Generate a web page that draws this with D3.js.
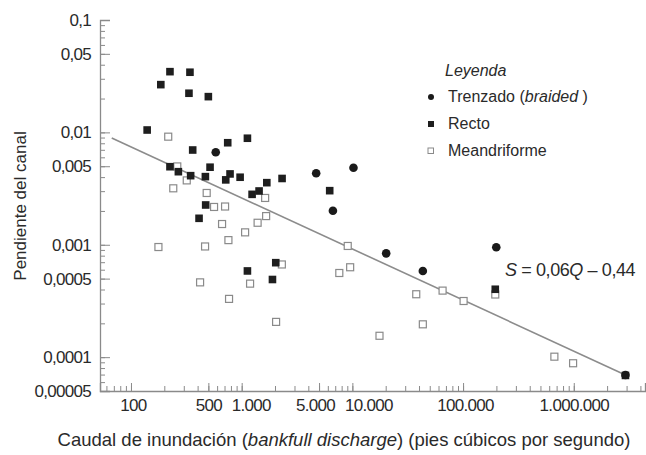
<!DOCTYPE html>
<html>
<head>
<meta charset="utf-8">
<script src="https://cdn.jsdelivr.net/npm/d3@7"></script>
<style>
  body { margin: 0; background: #fff; }
  text { font-family: "Liberation Sans", Arial, sans-serif; fill: #2a2a2a; }
</style>
</head>
<body>
<div id="chart"></div>
<script>
let width = 646, height = 455;

// caudal Q (pies3/s), pendiente S
const trenzado = [
  [583, 0.00665], [4710, 0.00433], [10230, 0.00485], [6670, 0.00201],
  [20200, 0.000839], [43300, 0.000585], [199500, 0.000951], [2930000, 0.0000695]
];
const recto = [
  [140, 0.0105], [186, 0.0266], [225, 0.0347], [341, 0.0343], [334, 0.0223],
  [500, 0.0208], [748, 0.00809], [1127, 0.00887], [361, 0.00697], [225, 0.00495],
  [268, 0.00447], [346, 0.00412], [470, 0.00404], [518, 0.0049], [785, 0.00427],
  [718, 0.00378], [968, 0.00399], [1687, 0.00357], [2317, 0.00389], [1242, 0.00281],
  [1436, 0.00301], [473, 0.00226], [412, 0.00172], [6240, 0.00303], [2032, 0.000693],
  [1127, 0.000585], [1897, 0.000491], [195400, 0.000402], [2930000, 0.0000688]
];
const meandriforme = [
  [217, 0.00916], [262, 0.00498], [319, 0.00374], [241, 0.00318], [483, 0.00289],
  [1629, 0.00261], [563, 0.00217], [708, 0.00219], [665, 0.00153], [1663, 0.0018],
  [1393, 0.00157], [1074, 0.00129], [759, 0.0011], [177, 0.000955], [467, 0.000966],
  [9080, 0.000976], [2306, 0.000668], [7620, 0.000561], [9550, 0.000631], [421, 0.000463],
  [1191, 0.000451], [769, 0.00033], [2046, 0.000206], [17580, 0.000155], [37760, 0.000363],
  [65300, 0.000391], [101100, 0.000316], [43300, 0.000196], [195400, 0.000361],
  [668000, 0.000101], [986000, 0.0000883]
];
// recta de ajuste (extremos)
const ajuste = [[67, 0.00891], [2930000, 0.0000695]];

const xTicks = [100, 500, 1000, 5000, 10000, 100000, 1000000];
const xTickLabels = ['100', '500', '1.000', '5.000', '10.000', '100.000', '1.000.000'];
const yTicks = [0.1, 0.05, 0.01, 0.005, 0.001, 0.0005, 0.0001, 0.00005];
const yTickLabels = ['0,1', '0,05', '0,01', '0,005', '0,001', '0,0005', '0,0001', '0,00005'];

// the original labels sit a bit off their ticks
const xLabelShift = [2, 0, 9, -4, 16, 2, 0];

const svg = d3.select('#chart').append('svg')
  .attr('width', width)
  .attr('height', height);

const x = d3.scaleLog().domain([52.5, 4.4e6]).range([100, 645]);
const y = d3.scaleLog().domain([0.00005, 0.1]).range([391, 20]);

const axisColor = '#8a8a8a';

// minor ticks
svg.append('g')
  .attr('transform', 'translate(0,391)')
  .call(d3.axisBottom(x).tickValues(x.ticks()).tickSize(-5).tickFormat(''))
  .call(g => g.select('.domain').remove());
svg.append('g')
  .attr('transform', 'translate(100,0)')
  .call(d3.axisLeft(y).tickValues(y.ticks()).tickSize(-5).tickFormat(''))
  .call(g => g.select('.domain').remove());

// major ticks + labels
const xAxis = svg.append('g')
  .attr('transform', 'translate(0,391)')
  .call(d3.axisBottom(x).tickValues(xTicks).tickSize(-8).tickPadding(8)
    .tickFormat((d, i) => xTickLabels[i]));
const yAxis = svg.append('g')
  .attr('transform', 'translate(100,0)')
  .call(d3.axisLeft(y).tickValues(yTicks).tickSize(-10).tickPadding(9)
    .tickFormat((d, i) => yTickLabels[i]));

xAxis.selectAll('.tick text').attr('dx', (d, i) => xLabelShift[i]);

svg.selectAll('.tick line').attr('stroke', axisColor);
[xAxis, yAxis].forEach(a => {
  a.select('.domain').attr('stroke', axisColor).attr('stroke-width', 1.3);
  a.selectAll('text').style('font-size', '17px').attr('fill', '#2a2a2a')
    .style('letter-spacing', '-0.7px');
});

// recta
svg.append('path')
  .datum(ajuste)
  .attr('fill', 'none')
  .attr('stroke', '#8c8c8c')
  .attr('stroke-width', 1.6)
  .attr('d', d3.line().x(d => x(d[0])).y(d => y(d[1])));

// meandriforme
svg.append('g').selectAll('rect')
  .data(meandriforme)
  .join('rect')
    .attr('x', d => x(d[0]) - 3.5)
    .attr('y', d => y(d[1]) - 3.5)
    .attr('width', 7)
    .attr('height', 7)
    .attr('fill', '#fff')
    .attr('stroke', '#8a8a8a')
    .attr('stroke-width', 1.2);

// recto
svg.append('g').selectAll('rect')
  .data(recto)
  .join('rect')
    .attr('x', d => x(d[0]) - 3.8)
    .attr('y', d => y(d[1]) - 3.8)
    .attr('width', 7.6)
    .attr('height', 7.6)
    .attr('fill', '#1e1e1e');

// trenzado
svg.append('g').selectAll('circle')
  .data(trenzado)
  .join('circle')
    .attr('cx', d => x(d[0]))
    .attr('cy', d => y(d[1]))
    .attr('r', 4.3)
    .attr('fill', '#1a1a1a');

// leyenda
const lg = svg.append('g').style('font-size', '16px');
lg.append('text').attr('x', 445).attr('y', 76).style('font-style', 'italic').text('Leyenda');
const t1 = lg.append('text').attr('x', 448).attr('y', 102);
t1.append('tspan').text('Trenzado (');
t1.append('tspan').style('font-style', 'italic').text('braided');
t1.append('tspan').text(' )');
lg.append('text').attr('x', 448).attr('y', 129).text('Recto');
lg.append('text').attr('x', 448).attr('y', 156).text('Meandriforme');
lg.append('circle').attr('cx', 431).attr('cy', 97).attr('r', 3).attr('fill', '#1a1a1a');
lg.append('rect').attr('x', 428).attr('y', 121).attr('width', 6).attr('height', 6).attr('fill', '#1e1e1e');
lg.append('rect').attr('x', 428).attr('y', 148).attr('width', 5.5).attr('height', 5.5)
  .attr('fill', '#fff').attr('stroke', '#8a8a8a');

// ecuacion
const eq = svg.append('text').attr('x', 505).attr('y', 276)
  .style('font-size', '18px').style('letter-spacing', '-0.4px');
eq.append('tspan').style('font-style', 'italic').text('S');
eq.append('tspan').text(' = 0,06');
eq.append('tspan').style('font-style', 'italic').text('Q');
eq.append('tspan').text(' – 0,44');

// titulos
const xt = svg.append('text').attr('x', 344).attr('y', 446)
  .attr('text-anchor', 'middle').style('font-size', '18.5px');
xt.append('tspan').text('Caudal de inundación (');
xt.append('tspan').style('font-style', 'italic').text('bankfull discharge');
xt.append('tspan').text(') (pies cúbicos por segundo)');

svg.append('text')
  .attr('transform', 'translate(26,206) rotate(-90)')
  .attr('text-anchor', 'middle')
  .style('font-size', '17px')
  .text('Pendiente del canal');
</script>
</body>
</html>
